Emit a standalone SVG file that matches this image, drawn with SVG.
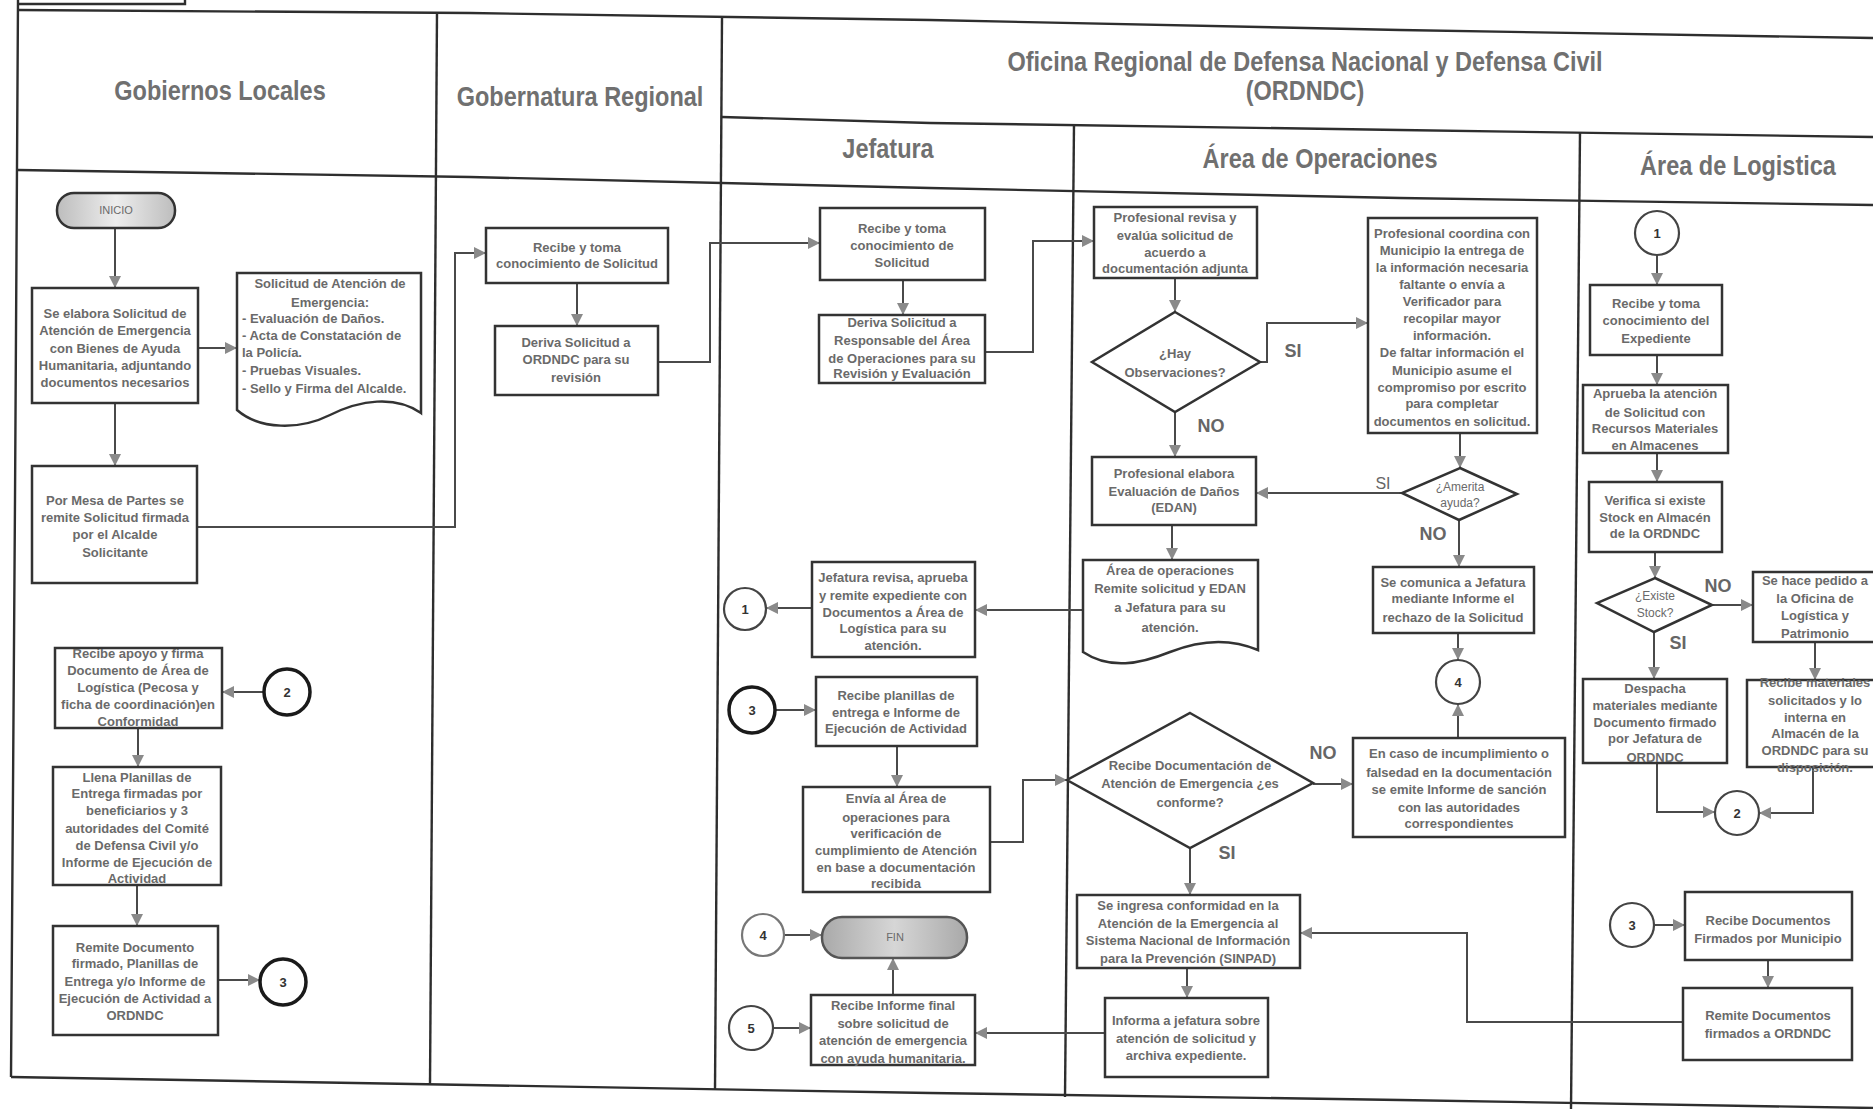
<svg xmlns="http://www.w3.org/2000/svg" width="1873" height="1109" viewBox="0 0 1873 1109">
<defs>
<style>
.grid{fill:none;stroke:#2e2e2e;stroke-width:2.4}
.bx{fill:#fff;stroke:#333;stroke-width:2.5}
.cir{fill:#fff;stroke:#444;stroke-width:2.2}
.cirk{fill:#fff;stroke:#1a1a1a;stroke-width:3.5}
.t{font-family:"Liberation Sans",Arial,sans-serif;font-weight:bold;font-size:13px;fill:#6a6a6a;text-anchor:middle}
.tl{text-anchor:start}
.tn{font-weight:normal;font-size:12px}
.h{font-family:"Liberation Sans",Arial,sans-serif;font-weight:bold;font-size:23.5px;fill:#707070;text-anchor:middle}
.lab{font-family:"Liberation Sans",Arial,sans-serif;font-weight:bold;font-size:18px;fill:#666;text-anchor:middle}
.cn{font-family:"Liberation Sans",Arial,sans-serif;font-weight:bold;font-size:13px;fill:#333;text-anchor:middle}
.c{fill:none;stroke:#4a4a4a;stroke-width:2;marker-end:url(#ah)}
</style>
<marker id="ah" viewBox="0 0 10 10" refX="10" refY="5" markerUnits="userSpaceOnUse" markerWidth="13" markerHeight="12" orient="auto">
<path d="M0,0 L10,5 L0,10 z" fill="#8a8a8a"/>
</marker>
<linearGradient id="term" x1="0" y1="0" x2="1" y2="0">
<stop offset="0" stop-color="#bdbdbd"/>
<stop offset="0.5" stop-color="#ededed"/>
<stop offset="1" stop-color="#bdbdbd"/>
</linearGradient>
<linearGradient id="term2" x1="0" y1="0" x2="1" y2="0">
<stop offset="0" stop-color="#a9a9a9"/>
<stop offset="0.5" stop-color="#d6d6d6"/>
<stop offset="1" stop-color="#a9a9a9"/>
</linearGradient>
</defs>
<rect width="1873" height="1109" fill="#fff"/>

<g id="grid">
<polyline class="grid" points="18,0 15,500 11,1077"/>
<polyline class="grid" points="18,4 185,4 185,0"/>
<polyline class="grid" points="18,10 470,13 930,20 1400,30 1873,38"/>
<polyline class="grid" points="18,170 470,177 930,188 1400,198 1873,205"/>
<polyline class="grid" points="722,117 930,123 1400,130 1873,137"/>
<polyline class="grid" points="437,12 430,1085"/>
<polyline class="grid" points="722,18 715,1090"/>
<polyline class="grid" points="1074,124 1065,1097"/>
<polyline class="grid" points="1580,132 1571,1109"/>
<polyline class="grid" points="11,1077 470,1085 930,1093 1400,1100 1873,1108"/>
</g>

<g id="headers">
<text class="h" transform="translate(220,100) scale(1,1.2)">Gobiernos Locales</text>
<text class="h" transform="translate(580,106) scale(1,1.2)">Gobernatura Regional</text>
<text class="h" transform="translate(1305,71) scale(1,1.2)">Oficina Regional de Defensa Nacional y Defensa Civil</text>
<text class="h" transform="translate(1305,100) scale(1,1.2)">(ORDNDC)</text>
<text class="h" transform="translate(888,158) scale(1,1.2)">Jefatura</text>
<text class="h" transform="translate(1320,168) scale(1,1.2)">Área de Operaciones</text>
<text class="h" transform="translate(1738,175) scale(1,1.2)">Área de Logistica</text>
</g>

<g id="connectors">
<path class="c" d="M115,228 V288"/>
<path class="c" d="M198,348 H237"/>
<path class="c" d="M115,403 V466"/>
<path class="c" d="M197,527 H455 V253 H486"/>
<path class="c" d="M264,692 H222"/>
<path class="c" d="M138,728 V767"/>
<path class="c" d="M137,885 V926"/>
<path class="c" d="M218,980 H260"/>
<path class="c" d="M577,283 V326"/>
<path class="c" d="M658,362 H710 V243 H820"/>
<path class="c" d="M903,280 V315"/>
<path class="c" d="M985,352 H1033 V241 H1094"/>
<path class="c" d="M1175,278 V312"/>
<path class="c" d="M1260,362 H1267 V323 H1368"/>
<path class="c" d="M1175,412 V457"/>
<path class="c" d="M1460,433 V468"/>
<path class="c" d="M1402,493 H1256"/>
<path class="c" d="M1459,520 V567"/>
<path class="c" d="M1458,633 V660"/>
<path class="c" d="M1458,738 V704"/>
<path class="c" d="M1172,525 V560"/>
<path class="c" d="M1083,610 H975"/>
<path class="c" d="M812,608 H766"/>
<path class="c" d="M775,710 H816"/>
<path class="c" d="M897,746 V787"/>
<path class="c" d="M990,842 H1023 V780 H1067"/>
<path class="c" d="M1313,784 H1353"/>
<path class="c" d="M1190,848 V895"/>
<path class="c" d="M1187,968 V998"/>
<path class="c" d="M1105,1033 H975"/>
<path class="c" d="M773,1028 H811"/>
<path class="c" d="M784,935 H822"/>
<path class="c" d="M893,995 V958"/>
<path class="c" d="M1657,255 V285"/>
<path class="c" d="M1657,355 V385"/>
<path class="c" d="M1657,453 V482"/>
<path class="c" d="M1655,552 V578"/>
<path class="c" d="M1712,605 H1753"/>
<path class="c" d="M1654,632 V679"/>
<path class="c" d="M1815,642 V680"/>
<path class="c" d="M1657,763 V812 H1715"/>
<path class="c" d="M1813,767 V813 H1759"/>
<path class="c" d="M1654,925 H1685"/>
<path class="c" d="M1768,960 V988"/>
<path class="c" d="M1683,1022 H1467 V933 H1300"/>
</g>

<g id="labels">
<text class="lab" x="1293" y="357">SI</text>
<text class="lab" x="1211" y="432">NO</text>
<text class="lab" x="1383" y="489" style="font-weight:normal;font-size:16px">SI</text>
<text class="lab" x="1433" y="540">NO</text>
<text class="lab" x="1323" y="759">NO</text>
<text class="lab" x="1227" y="859">SI</text>
<text class="lab" x="1718" y="592">NO</text>
<text class="lab" x="1678" y="649">SI</text>
</g>

<g id="inicio">
<rect x="57" y="193" width="118" height="35" rx="17" fill="url(#term)" stroke="#333" stroke-width="2.5"/>
<text class="t" x="116" y="214" style="font-size:11px;font-weight:normal">INICIO</text>
</g>
<g id="gl1">
<rect class="bx" x="32" y="288" width="166" height="115"/>
<text class="t"><tspan x="115" y="318">Se elabora Solicitud de</tspan><tspan x="115" y="335">Atención de Emergencia</tspan><tspan x="115" y="353">con Bienes de Ayuda</tspan><tspan x="115" y="370">Humanitaria, adjuntando</tspan><tspan x="115" y="387">documentos necesarios</tspan></text>
</g>
<g id="gl-doc">
<path class="bx" d="M237,273 H421 V413 C395,395 360,400 330,415 C300,430 260,430 237,410 Z"/>
<text class="t"><tspan x="330" y="288">Solicitud de Atención de</tspan><tspan x="330" y="307">Emergencia:</tspan></text>
<text class="t tl"><tspan x="242" y="323">- Evaluación de Daños.</tspan><tspan x="242" y="340">- Acta de Constatación de</tspan><tspan x="242" y="357">la Policía.</tspan><tspan x="242" y="375">- Pruebas Visuales.</tspan><tspan x="242" y="393">- Sello y Firma del Alcalde.</tspan></text>
</g>
<g id="gl2">
<rect class="bx" x="32" y="466" width="165" height="117"/>
<text class="t"><tspan x="115" y="505">Por Mesa de Partes se</tspan><tspan x="115" y="522">remite Solicitud firmada</tspan><tspan x="115" y="539">por el Alcalde</tspan><tspan x="115" y="557">Solicitante</tspan></text>
</g>
<g id="gl-c2">
<circle class="cirk" cx="287" cy="692" r="23"/>
<text class="cn" x="287" y="697">2</text>
</g>
<g id="gl3">
<rect class="bx" x="55" y="648" width="167" height="80"/>
<text class="t"><tspan x="138" y="658">Recibe apoyo y firma</tspan><tspan x="138" y="675">Documento de Área de</tspan><tspan x="138" y="692">Logística (Pecosa y</tspan><tspan x="138" y="709">ficha de coordinación)en</tspan><tspan x="138" y="726">Conformidad</tspan></text>
</g>
<g id="gl4">
<rect class="bx" x="53" y="767" width="168" height="118"/>
<text class="t"><tspan x="137" y="782">Llena Planillas de</tspan><tspan x="137" y="798">Entrega firmadas por</tspan><tspan x="137" y="815">beneficiarios y 3</tspan><tspan x="137" y="833">autoridades del Comité</tspan><tspan x="137" y="850">de Defensa Civil  y/o</tspan><tspan x="137" y="867">Informe de Ejecución de</tspan><tspan x="137" y="883">Actividad</tspan></text>
</g>
<g id="gl5">
<rect class="bx" x="53" y="926" width="165" height="109"/>
<text class="t"><tspan x="135" y="952">Remite Documento</tspan><tspan x="135" y="968">firmado, Planillas de</tspan><tspan x="135" y="986">Entrega y/o Informe de</tspan><tspan x="135" y="1003">Ejecución de Actividad a</tspan><tspan x="135" y="1020">ORDNDC</tspan></text>
</g>
<g id="gl-c3">
<circle class="cirk" cx="283" cy="982" r="23"/>
<text class="cn" x="283" y="987">3</text>
</g>

<g id="gr1">
<rect class="bx" x="486" y="228" width="182" height="55"/>
<text class="t"><tspan x="577" y="252">Recibe y toma</tspan><tspan x="577" y="268">conocimiento de Solicitud</tspan></text>
</g>
<g id="gr2">
<rect class="bx" x="495" y="326" width="163" height="69"/>
<text class="t"><tspan x="576" y="347">Deriva Solicitud a</tspan><tspan x="576" y="364">ORDNDC para su</tspan><tspan x="576" y="382">revisión</tspan></text>
</g>

<g id="j1">
<rect class="bx" x="820" y="208" width="165" height="72"/>
<text class="t"><tspan x="902" y="233">Recibe y toma</tspan><tspan x="902" y="250">conocimiento de</tspan><tspan x="902" y="267">Solicitud</tspan></text>
</g>
<g id="j2">
<rect class="bx" x="819" y="315" width="166" height="68"/>
<text class="t"><tspan x="902" y="327">Deriva Solicitud a</tspan><tspan x="902" y="345">Responsable del Área</tspan><tspan x="902" y="363">de Operaciones para su</tspan><tspan x="902" y="378">Revisión y Evaluación</tspan></text>
</g>
<g id="j3">
<rect class="bx" x="812" y="562" width="163" height="95"/>
<text class="t"><tspan x="893" y="582">Jefatura revisa, aprueba</tspan><tspan x="893" y="600">y remite expediente con</tspan><tspan x="893" y="617">Documentos a Área de</tspan><tspan x="893" y="633">Logística para su</tspan><tspan x="893" y="650">atención.</tspan></text>
</g>
<g id="j-c1">
<circle class="cir" cx="745" cy="609" r="21"/>
<text class="cn" x="745" y="614">1</text>
</g>
<g id="j-c3">
<circle class="cirk" cx="752" cy="710" r="23"/>
<text class="cn" x="752" y="715">3</text>
</g>
<g id="j4">
<rect class="bx" x="816" y="677" width="161" height="69"/>
<text class="t"><tspan x="896" y="700">Recibe planillas de</tspan><tspan x="896" y="717">entrega e Informe de</tspan><tspan x="896" y="733">Ejecución de Actividad</tspan></text>
</g>
<g id="j5">
<rect class="bx" x="803" y="787" width="187" height="105"/>
<text class="t"><tspan x="896" y="803">Envía al Área de</tspan><tspan x="896" y="822">operaciones para</tspan><tspan x="896" y="838">verificación de</tspan><tspan x="896" y="855">cumplimiento de Atención</tspan><tspan x="896" y="872">en base a documentación</tspan><tspan x="896" y="888">recibida</tspan></text>
</g>
<g id="j-c4">
<circle class="cir" cx="763" cy="935" r="21" style="stroke:#777"/>
<text class="cn" x="763" y="940">4</text>
</g>
<g id="fin">
<rect x="822" y="917" width="145" height="41" rx="20" fill="url(#term2)" stroke="#555" stroke-width="2.5"/>
<text class="t" x="895" y="941" style="font-weight:normal;font-size:11px">FIN</text>
</g>
<g id="j-c5">
<circle class="cir" cx="751" cy="1028" r="22"/>
<text class="cn" x="751" y="1033">5</text>
</g>
<g id="j6">
<rect class="bx" x="811" y="995" width="164" height="70"/>
<text class="t"><tspan x="893" y="1010">Recibe Informe final</tspan><tspan x="893" y="1028">sobre solicitud de</tspan><tspan x="893" y="1045">atención de emergencia</tspan><tspan x="893" y="1063">con ayuda humanitaria.</tspan></text>
</g>

<g id="op1">
<rect class="bx" x="1094" y="207" width="163" height="71"/>
<text class="t"><tspan x="1175" y="222">Profesional revisa y</tspan><tspan x="1175" y="240">evalúa solicitud de</tspan><tspan x="1175" y="257">acuerdo a</tspan><tspan x="1175" y="273">documentación adjunta</tspan></text>
</g>
<g id="op-d1">
<polygon class="bx" points="1175,312 1260,362 1175,412 1092,362"/>
<text class="t"><tspan x="1175" y="358">¿Hay</tspan><tspan x="1175" y="377">Observaciones?</tspan></text>
</g>
<g id="op2">
<rect class="bx" x="1368" y="218" width="169" height="215"/>
<text class="t"><tspan x="1452" y="238">Profesional coordina con</tspan><tspan x="1452" y="255">Municipio la entrega de</tspan><tspan x="1452" y="272">la información necesaria</tspan><tspan x="1452" y="289">faltante o envía a</tspan><tspan x="1452" y="306">Verificador para</tspan><tspan x="1452" y="323">recopilar mayor</tspan><tspan x="1452" y="340">información.</tspan><tspan x="1452" y="357">De faltar información el</tspan><tspan x="1452" y="375">Municipio asume el</tspan><tspan x="1452" y="392">compromiso por escrito</tspan><tspan x="1452" y="408">para completar</tspan><tspan x="1452" y="426">documentos en solicitud.</tspan></text>
</g>
<g id="op-d2">
<polygon class="bx" points="1460,468 1517,494 1459,520 1402,493"/>
<text class="t tn"><tspan x="1460" y="491">¿Amerita</tspan><tspan x="1460" y="507">ayuda?</tspan></text>
</g>
<g id="op3">
<rect class="bx" x="1092" y="457" width="164" height="68"/>
<text class="t"><tspan x="1174" y="478">Profesional elabora</tspan><tspan x="1174" y="496">Evaluación de Daños</tspan><tspan x="1174" y="512">(EDAN)</tspan></text>
</g>
<g id="op4">
<rect class="bx" x="1373" y="567" width="161" height="66"/>
<text class="t"><tspan x="1453" y="587">Se comunica a Jefatura</tspan><tspan x="1453" y="603">mediante Informe el</tspan><tspan x="1453" y="622">rechazo de la Solicitud</tspan></text>
</g>
<g id="op-c4">
<circle class="cir" cx="1458" cy="682" r="22"/>
<text class="cn" x="1458" y="687">4</text>
</g>
<g id="op5">
<path class="bx" d="M1083,560 H1258 V650 C1230,638 1200,640 1170,652 C1140,664 1110,670 1083,652 Z"/>
<text class="t"><tspan x="1170" y="575">Área de operaciones</tspan><tspan x="1170" y="593">Remite solicitud y EDAN</tspan><tspan x="1170" y="612">a Jefatura para su</tspan><tspan x="1170" y="632">atención.</tspan></text>
</g>
<g id="op-d3">
<polygon class="bx" points="1190,713 1313,783 1190,848 1067,780"/>
<text class="t"><tspan x="1190" y="770">Recibe Documentación de</tspan><tspan x="1190" y="788">Atención de Emergencia ¿es</tspan><tspan x="1190" y="807">conforme?</tspan></text>
</g>
<g id="op6">
<rect class="bx" x="1353" y="738" width="212" height="99"/>
<text class="t"><tspan x="1459" y="758">En caso de incumplimiento o</tspan><tspan x="1459" y="777">falsedad en la documentación</tspan><tspan x="1459" y="794">se emite Informe de sanción</tspan><tspan x="1459" y="812">con las autoridades</tspan><tspan x="1459" y="828">correspondientes</tspan></text>
</g>
<g id="op7">
<rect class="bx" x="1077" y="895" width="223" height="73"/>
<text class="t"><tspan x="1188" y="910">Se ingresa conformidad en la</tspan><tspan x="1188" y="928">Atención de la Emergencia al</tspan><tspan x="1188" y="945">Sistema Nacional de Información</tspan><tspan x="1188" y="963">para la Prevención (SINPAD)</tspan></text>
</g>
<g id="op8">
<rect class="bx" x="1105" y="998" width="163" height="79"/>
<text class="t"><tspan x="1186" y="1025">Informa a jefatura sobre</tspan><tspan x="1186" y="1043">atención de solicitud y</tspan><tspan x="1186" y="1060">archiva  expediente.</tspan></text>
</g>

<g id="lg-c1">
<circle class="cir" cx="1657" cy="233" r="22"/>
<text class="cn" x="1657" y="238">1</text>
</g>
<g id="lg1">
<rect class="bx" x="1590" y="285" width="132" height="70"/>
<text class="t"><tspan x="1656" y="308">Recibe y toma</tspan><tspan x="1656" y="325">conocimiento del</tspan><tspan x="1656" y="343">Expediente</tspan></text>
</g>
<g id="lg2">
<rect class="bx" x="1583" y="385" width="145" height="68"/>
<text class="t"><tspan x="1655" y="398">Aprueba la atención</tspan><tspan x="1655" y="417">de Solicitud con</tspan><tspan x="1655" y="433">Recursos Materiales</tspan><tspan x="1655" y="450">en Almacenes</tspan></text>
</g>
<g id="lg3">
<rect class="bx" x="1589" y="482" width="133" height="70"/>
<text class="t"><tspan x="1655" y="505">Verifica si existe</tspan><tspan x="1655" y="522">Stock en Almacén</tspan><tspan x="1655" y="538">de la ORDNDC</tspan></text>
</g>
<g id="lg-d4">
<polygon class="bx" points="1655,578 1712,605 1654,632 1597,603"/>
<text class="t tn"><tspan x="1655" y="600">¿Existe</tspan><tspan x="1655" y="617">Stock?</tspan></text>
</g>
<g id="lg4">
<rect class="bx" x="1753" y="572" width="125" height="70"/>
<text class="t"><tspan x="1815" y="585">Se hace pedido a</tspan><tspan x="1815" y="603">la Oficina de</tspan><tspan x="1815" y="620">Logística y</tspan><tspan x="1815" y="638">Patrimonio</tspan></text>
</g>
<g id="lg5">
<rect class="bx" x="1747" y="680" width="131" height="87"/>
<text class="t"><tspan x="1815" y="687">Recibe materiales</tspan><tspan x="1815" y="705">solicitados y lo</tspan><tspan x="1815" y="722">interna en</tspan><tspan x="1815" y="738">Almacén de la</tspan><tspan x="1815" y="755">ORDNDC para su</tspan><tspan x="1815" y="772">disposición.</tspan></text>
</g>
<g id="lg6">
<rect class="bx" x="1583" y="679" width="144" height="84"/>
<text class="t"><tspan x="1655" y="693">Despacha</tspan><tspan x="1655" y="710">materiales mediante</tspan><tspan x="1655" y="727">Documento firmado</tspan><tspan x="1655" y="743">por Jefatura de</tspan><tspan x="1655" y="762">ORDNDC</tspan></text>
</g>
<g id="lg-c2">
<circle class="cir" cx="1737" cy="813" r="22"/>
<text class="cn" x="1737" y="818">2</text>
</g>
<g id="lg-c3">
<circle class="cir" cx="1632" cy="925" r="22"/>
<text class="cn" x="1632" y="930">3</text>
</g>
<g id="lg7">
<rect class="bx" x="1685" y="892" width="167" height="68"/>
<text class="t"><tspan x="1768" y="925">Recibe Documentos</tspan><tspan x="1768" y="943">Firmados por Municipio</tspan></text>
</g>
<g id="lg8">
<rect class="bx" x="1683" y="988" width="169" height="72"/>
<text class="t"><tspan x="1768" y="1020">Remite Documentos</tspan><tspan x="1768" y="1038">firmados a ORDNDC</tspan></text>
</g>
</svg>
